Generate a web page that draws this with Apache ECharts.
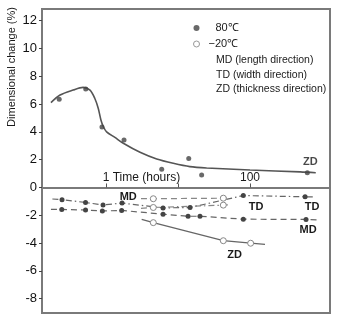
<!DOCTYPE html>
<html>
<head>
<meta charset="utf-8">
<script src="https://cdn.jsdelivr.net/npm/echarts@6/dist/echarts.min.js"></script>
<style>html,body{margin:0;padding:0;background:#fff}#c{width:350px;height:334px}</style>
</head>
<body>
<div id="c"></div>
<script>
// ---- data (time in hours, dimensional change in %) ----
const xTickValues = [1, 10, 100];
const xLabelValues = [1, 100];
const yTickValues = [-8, -6, -4, -2, 0, 2, 4, 6, 8, 10, 12];

// ZD, 80°C measured points
const zd80Time = [0.224, 0.523, 0.88, 1.78, 5.94, 14.1, 21.3, 625];
const zd80Value = [6.35, 7.09, 4.35, 3.42, 1.31, 2.09, 0.90, 1.06];
// ZD, 80°C fitted curve
const zdCurveTime = [0.172, 0.23, 0.35, 0.48, 0.6, 0.70, 0.78, 0.85, 0.92, 1.02, 1.33, 1.74, 2.97, 5.06, 8.6, 14.6, 25, 100, 497, 819];
const zdCurveValue = [6.10, 6.65, 7.01, 7.20, 7.00, 6.40, 5.70, 4.86, 4.37, 4.00, 3.60, 3.18, 2.53, 2.05, 1.74, 1.50, 1.40, 1.26, 1.12, 1.06];

// TD, 80°C
const td80Time = [0.18, 0.245, 0.52, 0.91, 1.67, 6.2, 14.7, 80.7, 582, 800];
const td80Value = [-0.83, -0.88, -1.08, -1.26, -1.12, -1.47, -1.44, -0.58, -0.67, -0.68];
const td80Marked = [false, true, true, true, true, true, true, true, true, false];

// MD, 80°C
const md80Time = [0.172, 0.243, 0.52, 0.89, 1.65, 6.2, 13.8, 20.2, 80.7, 600, 880];
const md80Value = [-1.58, -1.58, -1.62, -1.69, -1.65, -1.92, -2.07, -2.07, -2.28, -2.30, -2.34];
const md80Marked = [false, true, true, true, true, true, true, true, true, true, false];

// MD, -20°C
const mdm20Time = [3.06, 4.54, 42.6, 52];
const mdm20Value = [-0.80, -0.81, -0.77, -0.76];
const mdm20Marked = [false, true, true, false];

// TD, -20°C
const tdm20Time = [3.06, 4.54, 42.6, 52];
const tdm20Value = [-1.50, -1.44, -1.27, -1.25];
const tdm20Marked = [false, true, true, false];

// ZD, -20°C
const zdm20Time = [3.13, 4.54, 42.6, 102, 161.5];
const zdm20Value = [-2.29, -2.53, -3.83, -4.01, -4.09];
const zdm20Marked = [false, true, true, true, false];

// ---- helpers ----
const FONT = '"Liberation Sans", Arial, Helvetica, sans-serif';
const lbl = (text, extra) => Object.assign({show: true, formatter: text, color: '#1a1a1a', fontSize: 11, fontWeight: 'bold', fontFamily: FONT}, extra);

function build(ts, vs, marked, labels) {
  return ts.map((t, i) => {
    const item = {value: [t, vs[i]]};
    if (marked && !marked[i]) item.symbol = 'none';
    if (labels && labels[i]) item.label = labels[i];
    return item;
  });
}

const zd80Labels = {7: lbl('ZD', {position: 'top', distance: 3, offset: [3, 0]})};
const td80Labels = {8: lbl('TD', {position: 'bottom', distance: 2, offset: [7, 0]})};
const md80Labels = {9: lbl('MD', {position: 'bottom', distance: 3, offset: [2, 0]})};
const mdm20Labels = {1: lbl('MD', {position: 'left', distance: 13, offset: [0, -2]})};
const tdm20Labels = {2: lbl('TD', {position: 'right', distance: 22, offset: [0, 2]})};
const zdm20Labels = {3: lbl('ZD', {position: 'bottom', distance: 3, offset: [-16, 0]})};

const xMin = 0.1292, xMax = 1291;
const yMin = -9.03, yMax = 12.84;
const GRID = {left: 42, right: 20, top: 9, bottom: 21};
const gridH = 334 - GRID.top - GRID.bottom;
// move the time axis up so that it sits on the 0 % line
const xAxisOffset = -gridH * (0 - yMin) / (yMax - yMin);

const chart = echarts.init(document.getElementById('c'), null, {renderer: 'canvas'});
const option = {
  animation: false,
  backgroundColor: '#fff',
  textStyle: {fontFamily: FONT},
  grid: Object.assign({show: true, borderColor: '#7a7a7a', borderWidth: 2, outerBoundsMode: 'none', containLabel: false}, GRID),
  title: {
    text: 'MD (length direction)\nTD (width direction)\nZD (thickness direction)',
    left: 214, top: 51, padding: 2,
    textStyle: {fontSize: 10.5, fontWeight: 'normal', color: '#1a1a1a', lineHeight: 14.5, fontFamily: FONT}
  },
  legend: {
    orient: 'vertical', left: 193, top: 21, itemWidth: 8, itemHeight: 6, itemGap: 2, padding: 0,
    selectedMode: false,
    data: [
      {name: '80℃', icon: 'circle', itemStyle: {color: '#444', borderWidth: 0}},
      {name: '−20℃', icon: 'circle', itemStyle: {color: '#fff', borderColor: '#999', borderWidth: 1}}
    ],
    formatter: n => (n === '80℃' ? '{p1| }' : '{p2| }') + n,
    textStyle: {fontSize: 11, color: '#1a1a1a', lineHeight: 14, fontFamily: FONT,
      rich: {p1: {width: 10, fontSize: 11}, p2: {width: 3, fontSize: 11}}}
  },
  graphic: [{
    type: 'text', x: 12, y: 67, rotation: Math.PI / 2,
    style: {text: 'Dimensional change (%)', font: '11px ' + FONT, fill: '#1a1a1a', textAlign: 'center', textVerticalAlign: 'middle'}
  }],
  xAxis: {
    type: 'log', logBase: 10, min: xMin, max: xMax,
    position: 'bottom', offset: xAxisOffset,
    axisLine: {show: true, onZero: false, lineStyle: {color: '#7a7a7a', width: 2}},
    axisTick: {show: true, inside: true, length: 4, customValues: xTickValues, lineStyle: {color: '#555', width: 1}},
    minorTick: {show: false},
    splitLine: {show: false},
    axisLabel: {
      inside: true, margin: 4, customValues: xLabelValues, color: '#1a1a1a', fontSize: 12, fontFamily: FONT,
      formatter: v => (Math.abs(v - 1) < 1e-6 ? '{pad| }1 Time (hours)' : (Math.abs(v - 100) < 1e-6 ? '100' : '')),
      rich: {pad: {width: 71, fontSize: 12}}
    }
  },
  yAxis: {
    type: 'value', min: yMin, max: yMax,
    axisLine: {show: true, onZero: false, lineStyle: {color: '#7a7a7a', width: 2}},
    axisTick: {show: true, length: 3, customValues: yTickValues, lineStyle: {color: '#444'}},
    axisLabel: {customValues: yTickValues, margin: 5, color: '#111', fontSize: 13, fontFamily: FONT},
    splitLine: {show: false}
  },
  series: [
    {
      name: 'ZD 80℃ curve', type: 'line', smooth: 0.3, symbol: 'none',
      data: build(zdCurveTime, zdCurveValue),
      lineStyle: {color: '#555', width: 1.6}, z: 2
    },
    {
      name: '80℃', type: 'scatter', symbol: 'circle', symbolSize: 5,
      data: build(zd80Time, zd80Value, null, zd80Labels),
      itemStyle: {color: '#444'}, z: 4
    },
    {
      name: '80℃', type: 'line', symbol: 'circle', symbolSize: 5, showAllSymbol: true,
      data: build(td80Time, td80Value, td80Marked, td80Labels),
      itemStyle: {color: '#444'}, lineStyle: {color: '#666', width: 1.2, type: [6, 3, 1.5, 3]}, z: 3
    },
    {
      name: '80℃', type: 'line', symbol: 'circle', symbolSize: 5, showAllSymbol: true,
      data: build(md80Time, md80Value, md80Marked, md80Labels),
      itemStyle: {color: '#444'}, lineStyle: {color: '#666', width: 1.2, type: [6, 4]}, z: 3
    },
    {
      name: '−20℃', type: 'line', symbol: 'circle', symbolSize: 6, showAllSymbol: true,
      data: build(mdm20Time, mdm20Value, mdm20Marked, mdm20Labels),
      itemStyle: {color: '#fff', borderColor: '#888', borderWidth: 1}, lineStyle: {color: '#888', width: 1.2, type: [6, 4]}, z: 3
    },
    {
      name: '−20℃', type: 'line', symbol: 'circle', symbolSize: 6, showAllSymbol: true,
      data: build(tdm20Time, tdm20Value, tdm20Marked, tdm20Labels),
      itemStyle: {color: '#fff', borderColor: '#888', borderWidth: 1}, lineStyle: {color: '#888', width: 1.2, type: [6, 3, 1.5, 3]}, z: 3
    },
    {
      name: '−20℃', type: 'line', symbol: 'circle', symbolSize: 6, showAllSymbol: true,
      data: build(zdm20Time, zdm20Value, zdm20Marked, zdm20Labels),
      itemStyle: {color: '#fff', borderColor: '#888', borderWidth: 1}, lineStyle: {color: '#666', width: 1.3}, z: 3
    }
  ]
};
chart.setOption(option);
</script>
</body>
</html>
